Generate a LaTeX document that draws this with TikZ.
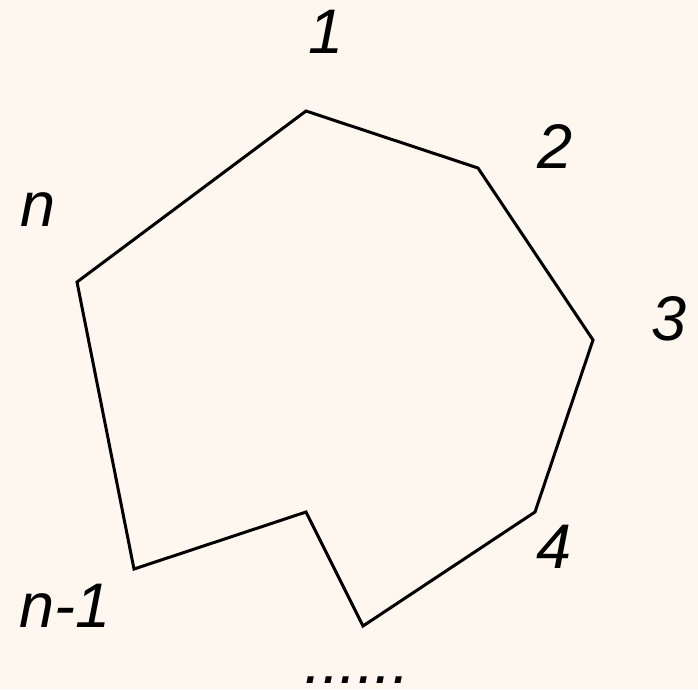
\documentclass[tikz,border=0pt]{standalone}
\usepackage{fontspec}
\setmainfont{Liberation Sans}
\definecolor{bgcream}{HTML}{FDF7F0}
\begin{document}
\begin{tikzpicture}[x=1pt,y=-1pt,
  lbl/.style={inner sep=0pt,anchor=base,font=\fontsize{63}{63}\selectfont\itshape},
  edge/.style={draw=black,line width=3pt,line join=miter}]
\fill[bgcream] (0,0) rectangle (698,689);
\useasboundingbox (0,0) rectangle (698,689);
\coordinate (v1) at (306,111);
\coordinate (v2) at (478,168);
\coordinate (v3) at (593,340);
\coordinate (v4) at (535,512);
\coordinate (v5) at (363,626);
\coordinate (v6) at (306,512);
\coordinate (v7) at (134,569);
\coordinate (vn) at (77,282);
\draw[edge] (v1) -- (v2) -- (v3) -- (v4) -- (v5) -- (v6) -- (v7) -- (vn) -- cycle;
\node[lbl] (l1) at (326,53) {1};
\node[lbl] (l2) at (555,168) {2};
\node[lbl] (l3) at (669,340) {3};
\node[lbl] (l4) at (554,568) {4};
\node[lbl] (ln) at (38,226) {n};
\node[lbl] (lnm) at (65,627) {n-1};
\node[lbl,text depth=0pt] (ldots) at (357,683) {......};
\end{tikzpicture}
\end{document}
